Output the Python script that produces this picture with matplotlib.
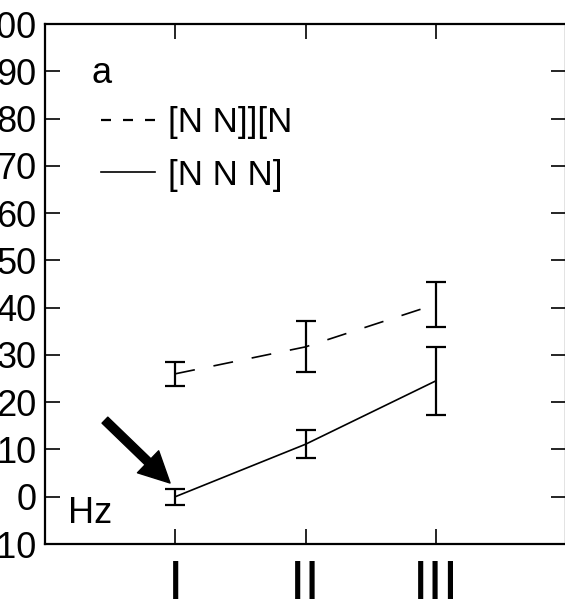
import matplotlib
matplotlib.use("Agg")
import matplotlib.pyplot as plt
from matplotlib.lines import Line2D

plt.rcParams['font.family'] = ['Liberation Sans', 'DejaVu Sans']

# conditions along the x axis
conditions = ["I", "II", "III"]
positions = [1, 2, 3]

# mean values (Hz) and error bar half-widths
split_mean = [26.0, 31.7, 40.7]
split_err = [2.5, 5.4, 4.8]
whole_mean = [0.0, 11.1, 24.5]
whole_err = [1.7, 3.0, 7.2]

series_labels = ["[N N]][N", "[N N N]"]
yticks = list(range(-10, 101, 10))

fig = plt.figure(figsize=(5.65, 6.01), dpi=100)
ax = fig.add_axes([45 / 565, 57 / 601, 521 / 565, 520 / 601])

ax.errorbar(positions, split_mean, yerr=split_err, color="black", lw=1.2,
            ls=(0, (12, 11.4)), elinewidth=1.6, capsize=7, capthick=1.6)
ax.errorbar(positions, whole_mean, yerr=whole_err, color="black", lw=1.2,
            ls="-", elinewidth=1.6, capsize=7, capthick=1.6)

ax.set_xlim(0, 4)
ax.set_ylim(-10, 100)
ax.set_xticks(positions)
ax.set_xticklabels(conditions, fontsize=40)
ax.set_yticks(yticks)
ax.set_yticklabels([str(v) for v in yticks], fontsize=26)
ax.tick_params(direction="in", length=11, width=1.2, top=True, right=True)
ax.tick_params(axis="y", pad=6)
ax.tick_params(axis="x", pad=11)
for sp in ax.spines.values():
    sp.set_linewidth(1.6)

# legend with its own dash pattern
handles = [Line2D([], [], color="black", lw=1.6, ls=(0, (4.5, 5.4))),
           Line2D([], [], color="black", lw=1.2, ls="-")]
ax.legend(handles, series_labels, loc="upper left", bbox_to_anchor=(0.1075, 0.842),
          frameon=False, fontsize=25, handlelength=1.55, handletextpad=0.37,
          labelspacing=0.56, borderpad=0, borderaxespad=0)

ax.text(0.09, 0.905, "a", transform=ax.transAxes, fontsize=26, va="center", ha="left")
ax.text(0.045, 0.058, "Hz", transform=ax.transAxes, fontsize=26, va="center", ha="left")

ax.annotate("", xy=(0.96, 2.9), xytext=(0.46, 16.2),
            arrowprops=dict(facecolor="black", edgecolor="black", width=6,
                            headwidth=22, headlength=22, shrink=0))

fig.savefig("out.png", dpi=100)
